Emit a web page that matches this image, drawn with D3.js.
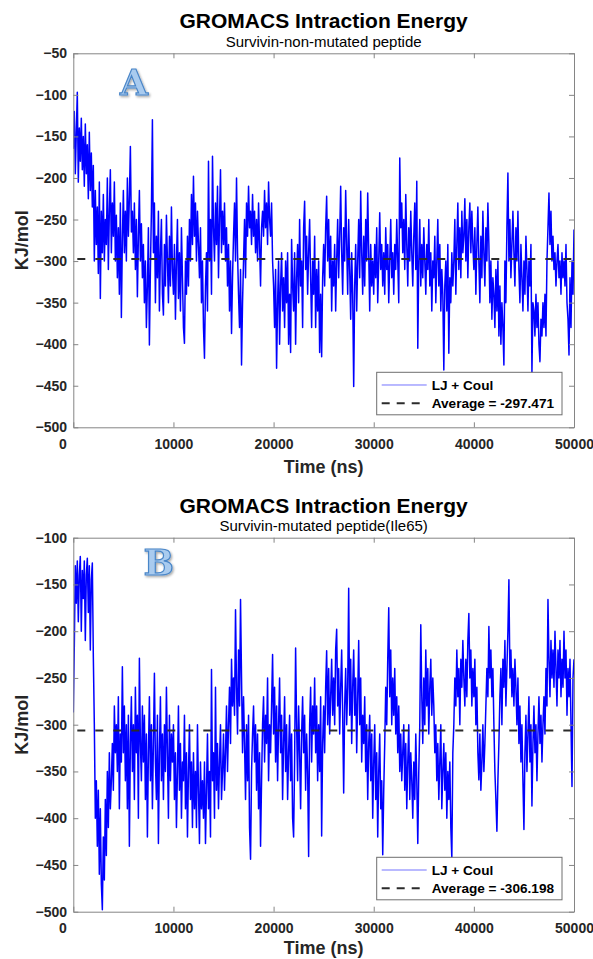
<!DOCTYPE html>
<html><head><meta charset="utf-8">
<script src="https://cdn.jsdelivr.net/npm/d3@7"></script>
<style>body{margin:0;background:#fff}svg{display:block}</style>
</head><body>
<svg id="chart" width="593" height="959"></svg>
<script>
const mainTitle = "GROMACS Intraction Energy";
const subtitles = ["Survivin-non-mutated peptide", "Survivin-mutated peptide(Ile65)"];
const panelLetters = ["A", "B"];
const averages = [-297.471, -306.198];
const seriesLabel = "LJ + Coul";
const averageLabel = "Average = ";
const xLabel = "Time (ns)";
const yLabel = "KJ/mol";
const timeStepNs = 100;
const xTicks = [0, 10000, 20000, 30000, 40000, 50000];
const yTicksA = [-500, -450, -400, -350, -300, -250, -200, -150, -100, -50];
const yTicksB = [-500, -450, -400, -350, -300, -250, -200, -150, -100];

// Panel A: Survivin-non-mutated peptide (kJ/mol, every 100 ns)
const energyA = [
-165,-120,-195,-145,-97,-205,-140,-180,-128,-190,
-150,-210,-135,-195,-160,-225,-145,-215,-170,-235,
-185,-300,-215,-280,-235,-315,-205,-345,-240,-290,
-220,-300,-250,-280,-200,-310,-240,-190,-290,-230,
-270,-205,-300,-245,-320,-260,-340,-230,-368,-275,
-215,-290,-240,-300,-200,-270,-225,-162,-265,-240,
-290,-230,-310,-250,-343,-270,-215,-300,-255,-320,
-280,-350,-300,-380,-330,-260,-401,-310,-240,-130,
-290,-230,-350,-270,-320,-240,-360,-290,-250,-340,
-365,-280,-330,-245,-300,-350,-270,-330,-235,-310,
-340,-280,-370,-300,-250,-345,-290,-360,-260,-320,
-380,-399,-300,-340,-270,-330,-250,-300,-220,-280,
-198,-270,-230,-300,-240,-280,-320,-260,-350,-300,
-380,-417,-330,-290,-360,-180,-300,-250,-340,-174,
-260,-300,-230,-280,-210,-320,-250,-190,-290,-240,
-280,-230,-300,-260,-330,-280,-360,-300,-387,-320,
-270,-230,-300,-200,-290,-340,-380,-310,-425,-350,
-300,-250,-320,-230,-270,-210,-260,-240,-280,-220,
-270,-240,-290,-250,-300,-230,-280,-330,-260,-240,
-270,-215,-260,-230,-280,-205,-250,-270,-230,-300,
-330,-380,-310,-429,-350,-300,-400,-330,-290,-360,
-320,-380,-300,-350,-290,-400,-340,-410,-274,-330,
-360,-290,-400,-320,-280,-350,-250,-330,-300,-380,
-260,-228,-310,-270,-340,-290,-250,-320,-380,-300,
-340,-270,-380,-310,-360,-300,-410,-340,-415,-320,
-280,-330,-260,-222,-300,-250,-320,-270,-360,-300,
-330,-280,-360,-300,-250,-320,-270,-210,-290,-340,
-260,-300,-215,-280,-340,-250,-310,-370,-290,-340,
-451,-330,-280,-360,-300,-250,-320,-216,-290,-340,
-270,-330,-250,-300,-218,-290,-360,-280,-330,-300,
-340,-280,-320,-260,-350,-300,-242,-310,-280,-330,
-290,-340,-260,-310,-280,-350,-300,-250,-320,-290,
-340,-280,-310,-250,-300,-350,-176,-260,-230,-290,
-250,-310,-220,-280,-330,-260,-300,-240,-290,-330,
-270,-230,-310,-204,-405,-300,-250,-330,-280,-320,
-260,-300,-340,-280,-310,-250,-330,-290,-360,-300,
-320,-270,-350,-300,-250,-330,-280,-360,-310,-340,
-431,-330,-300,-360,-280,-411,-320,-350,-290,-330,
-300,-250,-340,-280,-230,-310,-260,-320,-240,-290,
-270,-225,-300,-250,-320,-260,-230,-290,-240,-280,
-310,-260,-340,-280,-235,-300,-350,-270,-320,-240,
-290,-330,-260,-300,-230,-280,-350,-300,-370,-320,
-340,-380,-310,-360,-300,-390,-330,-400,-350,-380,
-425,-300,-350,-260,-194,-300,-250,-320,-280,-240,
-290,-330,-260,-300,-240,-310,-350,-280,-320,-360,
-300,-340,-270,-310,-360,-300,-330,-280,-435,-350,
-360,-390,-340,-380,-350,-400,-421,-370,-390,-350,
-380,-340,-390,-300,-260,-218,-280,-240,-300,-270,
-310,-290,-330,-300,-280,-320,-300,-340,-290,-320,
-300,-330,-280,-350,-370,-413,-320,-380,-300,-340,
-262];

// Panel B: Survivin-mutated peptide(Ile65) (kJ/mol, every 100 ns)
const energyB = [
-287,-216,-130,-170,-125,-190,-140,-120,-200,-135,
-165,-125,-210,-140,-122,-180,-130,-220,-145,-127,
-227,-300,-400,-360,-430,-370,-460,-390,-470,-498,
-420,-466,-380,-440,-350,-410,-330,-390,-360,-320,
-370,-280,-330,-300,-350,-270,-390,-310,-340,-238,
-330,-280,-360,-300,-390,-290,-430,-320,-270,-350,
-300,-380,-260,-330,-290,-400,-229,-320,-360,-280,
-340,-290,-380,-310,-420,-330,-270,-360,-300,-390,
-320,-245,-340,-380,-290,-427,-330,-270,-360,-310,
-380,-300,-350,-260,-330,-400,-290,-360,-310,-340,
-300,-380,-330,-410,-350,-280,-370,-320,-400,-340,
-360,-290,-390,-330,-420,-350,-300,-380,-340,-410,
-330,-390,-350,-410,-300,-370,-427,-340,-390,-360,
-400,-340,-427,-370,-310,-390,-350,-420,-241,-360,
-330,-400,-260,-370,-320,-390,-340,-300,-380,-350,
-310,-370,-330,-280,-350,-300,-260,-320,-230,-280,
-250,-290,-177,-260,-310,-220,-280,-166,-250,-330,
-270,-320,-380,-300,-360,-290,-410,-444,-350,-310,
-280,-340,-300,-370,-310,-390,-330,-430,-360,-300,
-270,-340,-290,-320,-250,-360,-300,-330,-280,-225,
-310,-260,-340,-280,-360,-300,-250,-330,-290,-380,
-320,-270,-350,-300,-380,-330,-290,-360,-310,-400,
-420,-340,-218,-300,-360,-280,-330,-390,-310,-270,
-330,-290,-370,-310,-350,-441,-300,-260,-340,-280,
-310,-250,-330,-280,-360,-300,-350,-270,-419,-320,
-280,-330,-260,-221,-300,-240,-310,-270,-230,-290,
-250,-300,-220,-198,-280,-240,-310,-260,-220,-290,
-373,-280,-240,-300,-260,-154,-290,-230,-320,-260,
-220,-290,-250,-330,-270,-210,-300,-250,-340,-290,
-320,-270,-350,-300,-380,-320,-290,-360,-310,-400,
-340,-300,-380,-330,-420,-350,-310,-390,-360,-439,
-370,-320,-260,-300,-230,-175,-270,-220,-300,-250,
-290,-240,-310,-270,-330,-280,-350,-310,-360,-330,
-300,-370,-320,-390,-340,-300,-380,-330,-360,-400,
-340,-380,-310,-360,-427,-350,-300,-193,-270,-320,
-250,-300,-220,-280,-240,-310,-260,-230,-290,-250,
-280,-330,-300,-360,-320,-380,-340,-300,-390,-350,
-320,-370,-330,-400,-350,-380,-340,-410,-443,-330,
-300,-250,-280,-220,-270,-240,-300,-230,-260,-210,
-250,-280,-230,-270,-210,-181,-250,-220,-280,-240,
-270,-230,-300,-260,-330,-359,-310,-370,-340,-300,
-350,-320,-280,-240,-270,-195,-250,-220,-270,-240,
-300,-350,-380,-414,-360,-320,-270,-240,-300,-230,
-260,-210,-280,-240,-200,-145,-250,-220,-270,-240,
-280,-230,-260,-300,-250,-320,-280,-340,-300,-360,
-412,-330,-290,-350,-310,-270,-340,-300,-387,-320,
-280,-330,-300,-360,-310,-270,-320,-290,-340,-300,
-270,-310,-240,-280,-166,-230,-270,-210,-250,-220,
-260,-200,-240,-280,-220,-250,-210,-270,-230,-260,
-200,-250,-220,-290,-240,-270,-230,-300,-366,-250,
-230];

const panels = [
  {top: 53.3, series: energyA, yTicks: yTicksA, avg: averages[0], sub: subtitles[0], letter: panelLetters[0], letterX: 60.7, letterY: 41.7, xLabelY: 45.7},
  {top: 537.7, series: energyB, yTicks: yTicksB, avg: averages[1], sub: subtitles[1], letter: panelLetters[1], letterX: 85.3, letterY: 37.3, xLabelY: 42.5}
];

const left = 73.3, W = 500.7, H = 374;
const font = "'Liberation Sans', Arial, Helvetica, sans-serif";
const svg = d3.select("#chart");
const defs = svg.append("defs");
const shadow = defs.append("filter").attr("id", "shadow").attr("x", "-20%").attr("y", "-20%").attr("width", "150%").attr("height", "150%");
shadow.append("feDropShadow").attr("dx", 1.2).attr("dy", 1.5).attr("stdDeviation", 1).attr("flood-color", "#000").attr("flood-opacity", 0.35);

panels.forEach((p, i) => {
  const g = svg.append("g").attr("transform", `translate(${left},${p.top})`);
  const x = d3.scaleLinear().domain([0, 50000]).range([0, W]);
  const y = d3.scaleLinear().domain([d3.min(p.yTicks), d3.max(p.yTicks)]).range([H, 0]);

  defs.append("clipPath").attr("id", "clip" + i).append("rect").attr("width", W).attr("height", H);

  const line = d3.line().x((d, j) => x(j * timeStepNs)).y(d => y(d));
  g.append("path").datum(p.series)
    .attr("clip-path", `url(#clip${i})`)
    .attr("d", line).attr("fill", "none").attr("stroke", "#0000ff").attr("stroke-width", 1.5).attr("stroke-linejoin", "round");

  g.append("line").attr("x1", 0).attr("x2", W).attr("y1", y(p.avg)).attr("y2", y(p.avg))
    .attr("stroke", "#2b2b2b").attr("stroke-width", 2).attr("stroke-dasharray", "8,10").attr("stroke-dashoffset", -4);

  const styleAxis = (sel, labels) => {
    sel.select(".domain").attr("stroke", "#858585").attr("stroke-width", 1);
    sel.selectAll(".tick line").attr("stroke", "#858585");
    sel.selectAll("text").attr("font-family", font).attr("font-size", 14).attr("font-weight", "bold").attr("fill", "#262626");
    if (!labels) sel.selectAll("text").remove();
  };

  g.append("g").attr("transform", `translate(0,${H})`)
    .call(d3.axisBottom(x).tickValues(xTicks).tickFormat(d3.format("d")).tickSizeInner(-5).tickSizeOuter(0).tickPadding(11.5))
    .call(s => styleAxis(s, true))
    .call(s => s.selectAll(".tick text").filter(d => d === 0).attr("dx", -11));
  g.append("g")
    .call(d3.axisTop(x).tickValues(xTicks).tickSizeInner(-5).tickSizeOuter(0))
    .call(s => styleAxis(s, false));
  g.append("g")
    .call(d3.axisLeft(y).tickValues(p.yTicks).tickFormat(d3.format("d")).tickSizeInner(-5).tickSizeOuter(0).tickPadding(6.3))
    .call(s => styleAxis(s, true));
  g.append("g").attr("transform", `translate(${W},0)`)
    .call(d3.axisRight(y).tickValues(p.yTicks).tickSizeInner(-5).tickSizeOuter(0))
    .call(s => styleAxis(s, false));

  // titles
  g.append("text").attr("x", W / 2).attr("y", -25).attr("text-anchor", "middle")
    .attr("font-family", font).attr("font-size", 21).attr("font-weight", "bold").attr("fill", "#000").text(mainTitle);
  g.append("text").attr("x", W / 2).attr("y", -6.6).attr("text-anchor", "middle")
    .attr("font-family", font).attr("font-size", 15).attr("fill", "#000").text(p.sub);

  // axis labels
  g.append("text").attr("x", W / 2).attr("y", H + p.xLabelY).attr("text-anchor", "middle")
    .attr("font-family", font).attr("font-size", 18).attr("font-weight", "bold").attr("fill", "#262626").text(xLabel);
  g.append("text").attr("transform", `translate(${28 - left},${H / 2}) rotate(-90)`).attr("text-anchor", "middle")
    .attr("font-family", font).attr("font-size", 18).attr("font-weight", "bold").attr("fill", "#262626").text(yLabel);

  // panel letter
  g.append("text").attr("x", p.letterX).attr("y", p.letterY).attr("text-anchor", "middle")
    .attr("font-family", "'DejaVu Serif', 'Liberation Serif', serif").attr("font-size", 36).attr("font-weight", "bold")
    .attr("fill", "#a9cbef").attr("stroke", "#4a86c8").attr("stroke-width", 1.2).attr("filter", "url(#shadow)").text(p.letter);

  // legend
  const lg = g.append("g").attr("transform", `translate(303.4,${i === 0 ? 319 : 319.6})`);
  lg.append("rect").attr("width", 185.3).attr("height", 42.5).attr("fill", "#fff").attr("stroke", "#6e6e6e").attr("stroke-width", 1);
  lg.append("line").attr("x1", 5).attr("x2", 50).attr("y1", 12.7).attr("y2", 12.7).attr("stroke", "#0000ff").attr("stroke-opacity", 0.55).attr("stroke-width", 1);
  lg.append("line").attr("x1", 5).attr("x2", 45).attr("y1", 31).attr("y2", 31).attr("stroke", "#2b2b2b").attr("stroke-width", 2).attr("stroke-dasharray", "8,7");
  lg.append("text").attr("x", 55).attr("y", 12.7).attr("dy", "0.35em").attr("font-family", font).attr("font-size", 13.6).attr("font-weight", "bold").attr("fill", "#000").text(seriesLabel);
  lg.append("text").attr("x", 55).attr("y", 31).attr("dy", "0.35em").attr("font-family", font).attr("font-size", 13.6).attr("font-weight", "bold").attr("fill", "#000").text(averageLabel + p.avg.toFixed(3));
});
</script>
</body></html>
